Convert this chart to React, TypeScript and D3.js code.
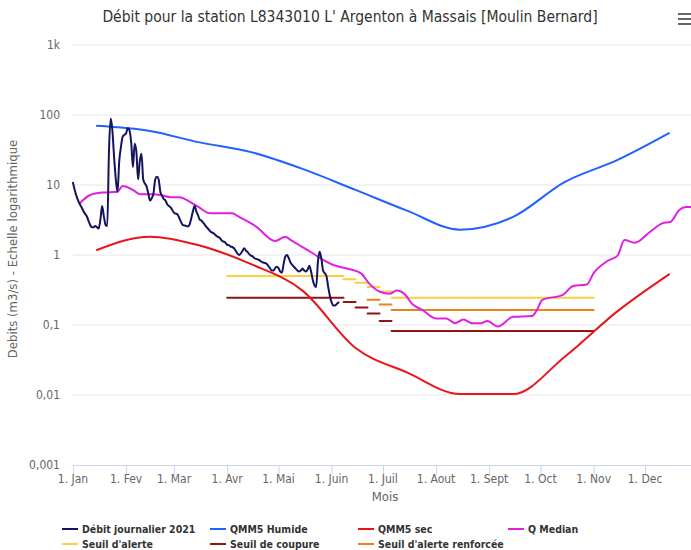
import React from "react";
import * as d3 from "d3";

const W = 691;
const H = 550;
const FONT = "'Liberation Sans Narrow', 'DejaVu Sans Condensed', Roboto, sans-serif";

// débit journalier 2021, une valeur par jour à partir du 1er janvier
const debitJournalier = [
  10.8, 8.5, 7.0, 6.0, 5.3, 4.8, 4.3, 3.9, 3.6, 3.1, 2.7, 2.5, 2.5, 2.6, 2.5, 2.4,
  3.2, 5.0, 3.6, 2.7, 2.6, 30, 89, 60, 25, 12, 8.0, 22, 35, 49, 52, 55, 65, 60, 40,
  18, 39, 30, 12, 22, 28, 12, 10.5, 9.5, 7.5, 6.0, 6.5, 7.6, 12, 13.1, 12, 8, 7.0,
  6.3, 6.0, 5.3, 5.0, 4.8, 4.4, 4.0, 3.9, 3.8, 3.4, 3.0, 2.7, 2.65, 2.6, 2.55, 2.7,
  3.3, 4.2, 5.0, 4.2, 3.7, 3.2, 3.1, 2.9, 2.7, 2.5, 2.35, 2.2, 2.1, 2.05, 1.95, 1.85,
  1.8, 1.72, 1.6, 1.55, 1.5, 1.4, 1.38, 1.32, 1.3, 1.25, 1.15, 1.05, 1.0, 1.05, 1.15,
  1.25, 1.15, 1.1, 1.02, 0.98, 0.95, 0.9, 0.88, 0.86, 0.84, 0.8, 0.78, 0.77, 0.75,
  0.7, 0.65, 0.6, 0.6, 0.65, 0.68, 0.65, 0.58, 0.56, 0.75, 0.95, 1.0, 0.9, 0.78, 0.72,
  0.68, 0.64, 0.6, 0.58, 0.6, 0.64, 0.6, 0.58, 0.62, 0.7, 0.58, 0.44, 0.37, 0.35, 0.8,
  1.11, 0.9, 0.6, 0.55, 0.5, 0.35, 0.26, 0.21, 0.19, 0.19, 0.2, 0.21,
];

// QMM5 : une valeur par mois, placée au 15 du mois
const qmm5Humide = [70, 59, 41, 29.5, 17, 8.5, 4.3, 2.3, 3.5, 11, 22.8, 55];
const qmm5Sec = [1.18, 1.83, 1.39, 0.74, 0.31, 0.047, 0.021, 0.0103, 0.0103, 0.035, 0.158, 0.53];

// Q median (jour de l'année, valeur)
const qMedianJours = [
  4, 10, 17, 26, 29, 35, 39, 47, 51, 57, 62, 68, 73, 80, 93, 97, 107, 118, 124, 127,
  132, 140, 146, 152, 160, 168, 173, 179, 185, 189, 194, 198, 204, 212, 218, 223,
  228, 233, 238, 242, 248, 257, 268, 271, 274, 286, 292, 300, 304, 312, 318, 322,
  328, 337, 344, 349, 354, 358, 364,
];
const qMedian = [
  5.5, 7.2, 7.8, 8.0, 9.7, 8.5, 7.4, 7.4, 7.2, 6.7, 6.7, 5.8, 4.9, 3.94, 3.94, 3.5,
  2.54, 1.58, 1.83, 1.64, 1.39, 1.06, 0.85, 0.72, 0.64, 0.55, 0.39, 0.3, 0.28, 0.31,
  0.27, 0.2, 0.164, 0.124, 0.124, 0.106, 0.12, 0.106, 0.106, 0.114, 0.095, 0.131,
  0.134, 0.166, 0.228, 0.27, 0.36, 0.38, 0.55, 0.82, 0.98, 1.64, 1.5, 2.15, 2.83,
  2.99, 4.4, 4.85, 4.85,
];

// seuils : périodes (jour de début) et valeurs
const seuilDebuts = [90, 158, 165, 172, 179, 186];
const seuilFin = 304;
const seuilAlerte = [0.5, 0.45, 0.4, 0.35, 0.3, 0.245];
const seuilCoupure = [0.245, 0.213, 0.178, 0.146, 0.114, 0.082];
const seuilRenforcee = [null, null, null, 0.23, 0.197, 0.164];

const moisLabels = ["Jan", "Fev", "Mar", "Avr", "Mai", "Juin", "Juil", "Aout", "Sept", "Oct", "Nov", "Dec"];
const yTicks = [1000, 100, 10, 1, 0.1, 0.01, 0.001];
const yLabels = ["1k", "100", "10", "1", "0,1", "0,01", "0,001"];

const COLORS = {
  debit: "#14145f",
  humide: "#1f62ff",
  sec: "#e8161a",
  median: "#e020e0",
  alerte: "#fccf3c",
  coupure: "#8e1616",
  renforcee: "#e8831e",
};

const legend = [
  { name: "Débit journalier 2021", color: COLORS.debit, col: 0, row: 0 },
  { name: "QMM5 Humide", color: COLORS.humide, col: 1, row: 0 },
  { name: "QMM5 sec", color: COLORS.sec, col: 2, row: 0 },
  { name: "Q Median", color: COLORS.median, col: 3, row: 0 },
  { name: "Seuil d'alerte", color: COLORS.alerte, col: 0, row: 1 },
  { name: "Seuil de coupure", color: COLORS.coupure, col: 1, row: 1 },
  { name: "Seuil d'alerte renforcée", color: COLORS.renforcee, col: 2, row: 1 },
];

const start = new Date(2021, 0, 1);
const jour = (d: number) => d3.timeDay.offset(start, d);

export default function App() {
  const x = d3.scaleTime().domain([start, new Date(2021, 11, 31)]).range([73, 696.4]);
  const y = d3.scaleLog().domain([0.001, 1000]).range([465, 45]);

  const line = d3
    .line<[Date, number]>()
    .x((d) => x(d[0]))
    .y((d) => y(d[1]))
    .curve(d3.curveMonotoneX);

  const debitPts = debitJournalier.map((v, i) => [jour(i), v] as [Date, number]);
  const humidePts = qmm5Humide.map((v, i) => [new Date(2021, i, 15), v] as [Date, number]);
  const secPts = qmm5Sec.map((v, i) => [new Date(2021, i, 15), v] as [Date, number]);
  const medianPts = qMedian.map((v, i) => [jour(qMedianJours[i]), v] as [Date, number]);

  const months = d3.timeMonth.range(start, new Date(2022, 0, 1));

  const seuilSegments = (vals: (number | null)[], color: string) =>
    vals.map((v, i) => {
      if (v == null) return null;
      const x1 = x(jour(seuilDebuts[i]));
      const x2 = x(jour(i < seuilDebuts.length - 1 ? seuilDebuts[i + 1] : seuilFin));
      return (
        <line key={color + i} x1={x1} x2={x2} y1={y(v)} y2={y(v)} stroke={color} strokeWidth={2} />
      );
    });

  const colX = [62, 210, 358, 508];

  return (
    <svg
      width={W}
      height={H}
      style={{ position: "absolute", left: 0, top: 0, background: "#fff" }}
      fontFamily={FONT}
    >
      <text x={350} y={22} textAnchor="middle" fontSize={15.5} fill="#333">
        Débit pour la station L8343010 L' Argenton à Massais [Moulin Bernard]
      </text>
      <g stroke="#666" strokeWidth={2}>
        <line x1={678} x2={694} y1={14} y2={14} />
        <line x1={678} x2={694} y1={19} y2={19} />
        <line x1={678} x2={694} y1={24} y2={24} />
      </g>

      {/* grille horizontale */}
      {yTicks.map((t, i) => (
        <g key={t}>
          {t > 0.001 && <line x1={73} x2={W} y1={y(t)} y2={y(t)} stroke="#e6e6e6" strokeWidth={1} />}
          <text x={60} y={y(t) + 4} textAnchor="end" fontSize={12} fill="#666">
            {yLabels[i]}
          </text>
        </g>
      ))}

      {/* axe des x */}
      <line x1={73} x2={W} y1={465.5} y2={465.5} stroke="#ccd6eb" />
      {months.map((m, i) => (
        <g key={i}>
          <line x1={x(m) + 0.5} x2={x(m) + 0.5} y1={465} y2={475} stroke="#ccd6eb" />
          <text x={x(m)} y={483} textAnchor="middle" fontSize={12} fill="#666">
            {"1. " + moisLabels[i]}
          </text>
        </g>
      ))}
      <text x={385} y={501} textAnchor="middle" fontSize={13} fill="#666">
        Mois
      </text>
      <text
        transform={`translate(17, 249) rotate(-90)`}
        textAnchor="middle"
        fontSize={13}
        fill="#666"
      >
        Debits (m3/s) - Echelle logarithmique
      </text>

      {/* séries */}
      <g fill="none" strokeWidth={2} strokeLinejoin="round" strokeLinecap="round">
        {seuilSegments(seuilAlerte, COLORS.alerte)}
        {seuilSegments(seuilRenforcee, COLORS.renforcee)}
        {seuilSegments(seuilCoupure, COLORS.coupure)}
        <path d={line(secPts) || ""} stroke={COLORS.sec} />
        <path d={line(humidePts) || ""} stroke={COLORS.humide} />
        <path d={line(medianPts) || ""} stroke={COLORS.median} />
        <path d={line(debitPts) || ""} stroke={COLORS.debit} />
      </g>

      {/* légende */}
      {legend.map((l) => (
        <g key={l.name} transform={`translate(${colX[l.col]}, ${529 + l.row * 15})`}>
          <line x1={0} x2={16} y1={0} y2={0} stroke={l.color} strokeWidth={2} />
          <text x={20} y={3.5} fontSize={10.5} fontWeight="bold" fill="#333">
            {l.name}
          </text>
        </g>
      ))}
    </svg>
  );
}
